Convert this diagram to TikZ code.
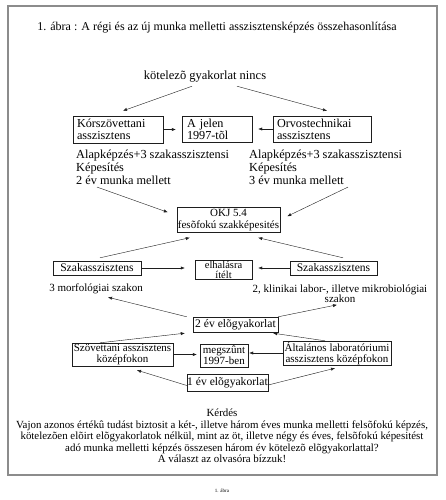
\documentclass[tikz,border=0pt]{standalone}
\usepackage{fontspec}
\setmainfont{Liberation Serif}
\usepackage{tikz}
\usetikzlibrary{calc,arrows.meta}
\definecolor{framegray}{HTML}{8C8C8C}
\definecolor{inkx}{HTML}{1E1E1E}
\tikzset{
  ar/.style={-{Latex[length=4pt,width=3.2pt]},thin,inkx},
  box/.style={draw=inkx,thin,inner sep=0pt,align=center},
  lbox/.style={box,align=left,inner xsep=4pt},
  big/.style={font=\fontsize{12.2}{12}\selectfont},
  one/.style={font=\fontsize{11.6}{12}\selectfont},
  mid/.style={font=\fontsize{11}{11}\selectfont}
}
\begin{document}
\begin{tikzpicture}[x=1pt,y=-1pt]
\path[fill=white,use as bounding box] (0,0) rectangle (446,500);
\draw[framegray,line width=1.3pt] (8,6) rectangle (437,475);
\node[font=\fontsize{12}{12}\selectfont] (title) at (217,28) {1. ábra : A régi és az új munka melletti asszisztensképzés összehasonlítása};
\node[font=\fontsize{12.5}{13}\selectfont] (nincs) at (205,77) {kötelezõ gyakorlat nincs};
\node[lbox,big,text width=82pt,minimum height=27pt] (korsz) at (118,129.5) {Kórszövettani\\asszisztens};
\node[lbox,big,text width=60pt,inner xsep=5pt,minimum height=26pt] (jelen) at (217,129) {A jelen\\1997-tõl};
\node[lbox,big,text width=90pt,minimum height=26pt] (orvos) at (322,129) {Orvostechnikai\\asszisztens};
\node[font=\fontsize{12.3}{13}\selectfont,anchor=north west,inner sep=0pt,align=left] (alap1) at (76,150) {Alapképzés+3 szakasszisztensi\\Képesítés\\2 év munka mellett};
\node[font=\fontsize{12.3}{13}\selectfont,anchor=north west,inner sep=0pt,align=left] (alap2) at (249,150) {Alapképzés+3 szakasszisztensi\\Képesítés\\3 év munka mellett};
\node[box,font=\fontsize{11}{12.5}\selectfont,minimum width=103pt,minimum height=25pt] (okj) at (228.5,220) {OKJ 5.4\\fesõfokú szakképesités};
\node[box,one,minimum width=88pt,minimum height=14pt] (szakL) at (97,268) {Szakasszisztens};
\node[box,font=\fontsize{10.5}{9.5}\selectfont,minimum width=57pt,minimum height=19pt] (elhal) at (223.5,270) {elhalásra\\ítélt};
\node[box,one,minimum width=87pt,minimum height=14pt] (szakR) at (333.5,268) {Szakasszisztens};
\node[mid,inner sep=1pt] (morf) at (96,289) {3 morfológiai szakon};
\node[font=\fontsize{11}{10.5}\selectfont,align=center,inner sep=1pt] (klin) at (340,293.5) {2, klinikai labor-, illetve mikrobiológiai\\szakon};
\node[box,one,minimum width=85pt,minimum height=15pt] (ev2) at (235.5,324.5) {2 év elõgyakorlat};
\node[box,mid,minimum width=101pt,minimum height=23pt] (szov) at (122.5,354.5) {Szövettani asszisztens\\középfokon};
\node[box,mid,minimum width=48pt,minimum height=23pt] (megsz) at (224,355.5) {megszûnt\\1997-ben};
\node[box,mid,minimum width=108pt,minimum height=24pt] (altal) at (337,353) {Általános laboratóriumi\\asszisztens középfokon};
\node[box,one,minimum width=81pt,minimum height=17pt] (ev1) at (227.5,382.5) {1 év elõgyakorlat};
\node[font=\fontsize{10.9}{11.5}\selectfont,align=center,inner sep=0pt] (kerdes) at (222,436) {Kérdés\\Vajon azonos értékû tudást biztosit a két-, illetve három éves munka melletti felsõfokú képzés,\\kötelezõen elõirt elõgyakorlatok nélkül, mint az öt, illetve négy és éves, felsõfokú képesitést\\adó munka melletti képzés összesen három év kötelezõ elõgyakorlattal?\\A választ az olvasóra bízzuk!};
\node[font=\fontsize{5}{6}\selectfont] (abra) at (222,491) {1. ábra};
\draw[ar] ($(nincs.south)+(-13,0)$) -- ($(korsz.north)+(5,-5)$);
\draw[ar] ($(nincs.south)+(32,0)$) -- ($(orvos.north)+(5,-5)$);
\draw[ar,shorten >=6pt] (korsz.east) -- (korsz.east -| jelen.west);
\draw[ar,shorten >=6pt] (orvos.west) -- (orvos.west -| jelen.east);
\draw[ar] ($(alap1.south west)+(21,2)$) -- ($(okj.north west)+(-9,5)$);
\draw[ar] ($(alap2.south west)+(99,2)$) -- ($(okj.north east)+(7,9)$);
\draw[ar] ($(szakL.north)+(3,-3)$) -- ($(okj.south west)+(13,5)$);
\draw[ar] ($(szakR.north)+(9.5,-3)$) -- ($(okj.south east)+(-22,5)$);
\draw[ar,shorten >=10pt] (szakL.east) -- (szakL.east -| elhal.west);
\draw[ar,shorten >=6pt] (szakR.west) -- (szakR.west -| elhal.east);
\draw[ar] ($(ev2.north west)+(-6,0)$) -- ($(morf.south)+(12,2)$);
\draw[ar] (ev2.north east) -- ($(klin.south)+(-3,1)$);
\draw[ar] ($(szov.north)+(-22.5,0)$) -- ($(ev2.south west)+(-8,1)$);
\draw[ar] ($(altal.north)+(-12,0)$) -- ($(ev2.south east)+(-5,1)$);
\draw[ar,shorten >=3pt] (szov.east) -- (szov.east -| megsz.west);
\draw[ar,shorten >=1pt] (altal.west) -- (altal.west -| megsz.east);
\draw[ar] ($(ev1.west)+(0,3)$) -- ($(szov.south)+(14.5,4)$);
\draw[ar] ($(ev1.east)+(0,2.5)$) -- ($(altal.south)+(-2,3)$);
\end{tikzpicture}
\end{document}
